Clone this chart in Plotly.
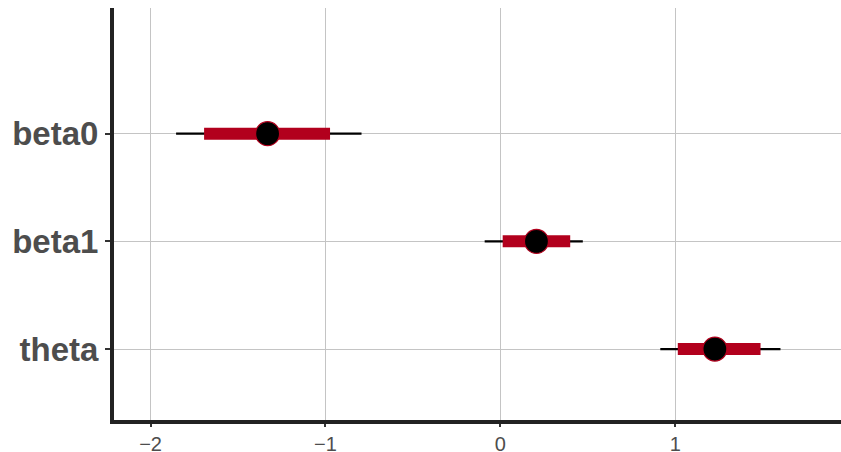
import plotly.graph_objects as go

params = ["beta0", "beta1", "theta"]
outer_lo = [-1.854, -0.090, 0.914]
outer_hi = [-0.794, 0.471, 1.601]
inner_lo = [-1.694, 0.013, 1.014]
inner_hi = [-0.974, 0.399, 1.487]
point = [-1.331, 0.206, 1.226]
ypos = [3, 2, 1]

x_ticks = [-2, -1, 0, 1]
x_ticktext = ["\u22122", "\u22121", "0", "1"]

RED = "#b2001d"

fig = go.Figure()
for i, p in enumerate(params):
    fig.add_trace(go.Scatter(x=[outer_lo[i], outer_hi[i]], y=[ypos[i], ypos[i]],
                             mode="lines", line=dict(color="black", width=2.2),
                             showlegend=False, hoverinfo="skip"))
for i, p in enumerate(params):
    fig.add_trace(go.Scatter(x=[inner_lo[i], inner_hi[i]], y=[ypos[i], ypos[i]],
                             mode="lines", line=dict(color=RED, width=12),
                             showlegend=False, hoverinfo="skip"))
fig.add_trace(go.Scatter(x=point, y=ypos, mode="markers",
                         marker=dict(color="black", size=24, line=dict(color=RED, width=1.2)),
                         showlegend=False))

fig.update_layout(
    width=841, height=452,
    margin=dict(l=114, r=0, t=8, b=32),
    paper_bgcolor="white", plot_bgcolor="white",
    font=dict(family="Liberation Sans, Arial, sans-serif", color="#4d4d4d"),
    xaxis=dict(range=[-2.209, 1.947], tickvals=x_ticks, ticktext=x_ticktext,
               automargin=False,
               showgrid=True, gridcolor="#c4c4c4", gridwidth=1, zeroline=False,
               showline=True, linecolor="#222222", linewidth=4,
               ticks="outside", ticklen=3, tickwidth=2, tickcolor="#333333",
               tickfont=dict(size=20, color="#4d4d4d")),
    yaxis=dict(range=[0.341, 4.167], tickvals=ypos, ticktext=params,
               automargin=False,
               showgrid=True, gridcolor="#c4c4c4", gridwidth=1, zeroline=False,
               showline=True, linecolor="#222222", linewidth=4,
               ticks="outside", ticklen=5, tickwidth=2, tickcolor="#333333",
               tickfont=dict(size=33, color="#4d4d4d", family="Liberation Sans, Arial, sans-serif", weight="bold")),
)
fig.write_html("out.html", config={"displayModeBar": False},
               post_script="document.body.style.margin='0px';")
